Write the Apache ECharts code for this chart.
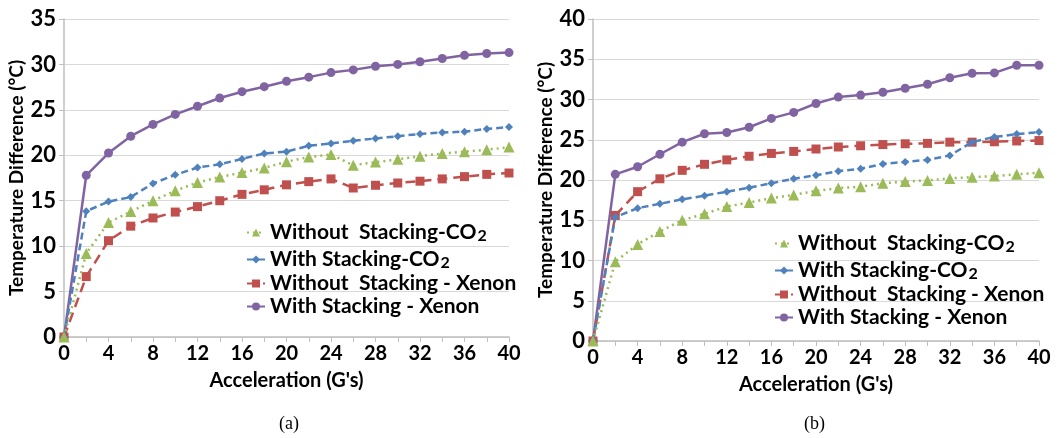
<!DOCTYPE html>
<html>
<head>
<meta charset="utf-8">
<script src="https://cdn.jsdelivr.net/npm/echarts@6/dist/echarts.min.js"></script>
<style>
  html, body { margin: 0; padding: 0; background: #fff; }
  #myecharts { width: 1063px; height: 438px; }
</style>
</head>
<body>
<div id="myecharts"></div>
<script>
// data
var accel = [0, 2, 4, 6, 8, 10, 12, 14, 16, 18, 20, 22, 24, 26, 28, 30, 32, 34, 36, 38, 40];

// (a)
var aWithoutCO2 = [0, 9.2, 12.6, 13.8, 15.0, 16.1, 17.0, 17.6, 18.1, 18.6, 19.3, 19.8, 20.1, 18.9, 19.25, 19.55, 19.9, 20.2, 20.4, 20.6, 20.9];
var aWithCO2 = [0, 13.85, 14.9, 15.4, 16.9, 17.85, 18.65, 19.0, 19.6, 20.2, 20.4, 21.05, 21.3, 21.6, 21.85, 22.1, 22.35, 22.5, 22.6, 22.9, 23.1];
var aWithoutXe = [0, 6.65, 10.6, 12.2, 13.1, 13.75, 14.35, 15.0, 15.7, 16.2, 16.75, 17.1, 17.4, 16.4, 16.7, 16.95, 17.15, 17.4, 17.65, 17.9, 18.05];
var aWithXe = [0, 17.8, 20.25, 22.1, 23.4, 24.5, 25.4, 26.3, 27.0, 27.55, 28.15, 28.6, 29.1, 29.4, 29.8, 30.0, 30.3, 30.65, 31.0, 31.2, 31.3];

// (b)
var bWithoutCO2 = [0, 9.85, 12.0, 13.6, 15.0, 15.8, 16.7, 17.2, 17.75, 18.15, 18.65, 19.0, 19.15, 19.6, 19.8, 19.95, 20.2, 20.35, 20.5, 20.7, 20.9];
var bWithCO2 = [0, 15.4, 16.5, 17.05, 17.6, 18.05, 18.55, 19.05, 19.6, 20.15, 20.6, 21.1, 21.4, 22.0, 22.25, 22.5, 23.05, 24.7, 25.35, 25.7, 25.95];
var bWithoutXe = [0, 15.6, 18.55, 20.15, 21.2, 21.95, 22.5, 22.95, 23.3, 23.55, 23.85, 24.1, 24.25, 24.4, 24.5, 24.55, 24.7, 24.7, 24.75, 24.85, 24.9];
var bWithXe = [0, 20.7, 21.65, 23.2, 24.7, 25.75, 25.9, 26.55, 27.65, 28.4, 29.5, 30.3, 30.55, 30.9, 31.4, 31.9, 32.7, 33.25, 33.3, 34.25, 34.25];

var names = ['Without  Stacking-CO2', 'With Stacking-CO2', 'Without  Stacking - Xenon', 'With Stacking - Xenon'];
var xTicks = [0, 4, 8, 12, 16, 20, 24, 28, 32, 36, 40];

var font = 'Lato, "Open Sans", sans-serif';
var myChart = echarts.init(document.getElementById('myecharts'));

function pairs(arr) {
    return accel.map(function (x, i) { return [x, arr[i]]; });
}

// look of each of the four series, same order as names
var looks = [
    {color: '#9BBB59', type: [2, 4], symbol: 'triangle', size: 11},
    {color: '#4F81BD', type: [7, 4], symbol: 'diamond', size: 8},
    {color: '#C0504D', type: [10, 6], symbol: 'rect', size: 9},
    {color: '#8064A2', type: 'solid', symbol: 'circle', size: 9}
];

function makeSeries(idx, sets) {
    return sets.map(function (arr, k) {
        var lk = looks[k];
        return {
            name: names[k],
            type: 'line',
            xAxisIndex: idx,
            yAxisIndex: idx,
            data: pairs(arr),
            symbol: lk.symbol,
            symbolSize: lk.size,
            itemStyle: {color: lk.color},
            lineStyle: {color: lk.color, width: 2.5, type: lk.type},
            z: 10 - k
        };
    });
}

function xAxisOpt(idx) {
    return {
        type: 'value',
        gridIndex: idx,
        min: 0, max: 40, interval: 2,
        name: "Acceleration (G's)",
        nameLocation: 'middle',
        nameGap: 34,
        nameTextStyle: {fontFamily: font, fontWeight: 'bold', fontSize: 20, color: '#000'},
        axisLine: {lineStyle: {color: '#bfbfbf', width: 1.5}},
        axisTick: {show: true, length: 5, lineStyle: {color: '#bfbfbf'}},
        axisLabel: {
            margin: 7,
            fontFamily: font, fontWeight: 'bold', fontSize: 20, color: '#000',
            formatter: function (v) { return xTicks.indexOf(v) >= 0 ? String(v) : ''; }
        },
        splitLine: {show: false}
    };
}

function yAxisOpt(idx, max) {
    return {
        type: 'value',
        gridIndex: idx,
        min: 0, max: max, interval: 5,
        name: 'Temperature Difference (°C)',
        nameLocation: 'middle',
        nameGap: 37,
        nameTextStyle: {fontFamily: font, fontWeight: 'bold', fontSize: 19, color: '#000'},
        axisLine: {show: true, lineStyle: {color: '#bfbfbf', width: 1.5}},
        axisTick: {show: true, length: 5, lineStyle: {color: '#bfbfbf'}},
        axisLabel: {margin: 8, fontFamily: font, fontWeight: 'bold', fontSize: 22, color: '#000'},
        splitLine: {show: true, lineStyle: {color: '#d9d9d9', width: 1.2}}
    };
}

function legendOpt(left, top) {
    return {
        orient: 'vertical',
        left: left, top: top,
        itemWidth: 18, itemHeight: 10,
        itemGap: 2,
        data: names,
        formatter: function (n) {
            if (n.slice(-3) === 'CO2') return '{t|' + n.slice(0, -1) + '}{s|2}';
            return '{t|' + n + '}';
        },
        textStyle: {
            rich: {
                t: {fontFamily: font, fontWeight: 'bold', fontSize: 21, color: '#000', lineHeight: 23},
                s: {fontFamily: font, fontWeight: 'bold', fontSize: 16, color: '#000', lineHeight: 23, padding: [9, 0, 0, 1], verticalAlign: 'bottom'}
            }
        }
    };
}

var option = {
    animation: false,
    backgroundColor: '#fff',
    grid: [
        {left: 64, top: 19, width: 445, height: 318},
        {left: 593, top: 19, width: 446, height: 322}
    ],
    xAxis: [xAxisOpt(0), xAxisOpt(1)],
    yAxis: [yAxisOpt(0, 35), yAxisOpt(1, 40)],
    legend: [legendOpt(241, 214), legendOpt(769, 225)],
    graphic: [
        {type: 'text', left: 279, top: 415, style: {text: '(a)', font: '18px "Liberation Serif", serif', fill: '#000'}},
        {type: 'text', left: 804, top: 415, style: {text: '(b)', font: '18px "Liberation Serif", serif', fill: '#000'}}
    ],
    series: makeSeries(0, [aWithoutCO2, aWithCO2, aWithoutXe, aWithXe])
        .concat(makeSeries(1, [bWithoutCO2, bWithCO2, bWithoutXe, bWithXe]))
};

myChart.setOption(option);
</script>
</body>
</html>
